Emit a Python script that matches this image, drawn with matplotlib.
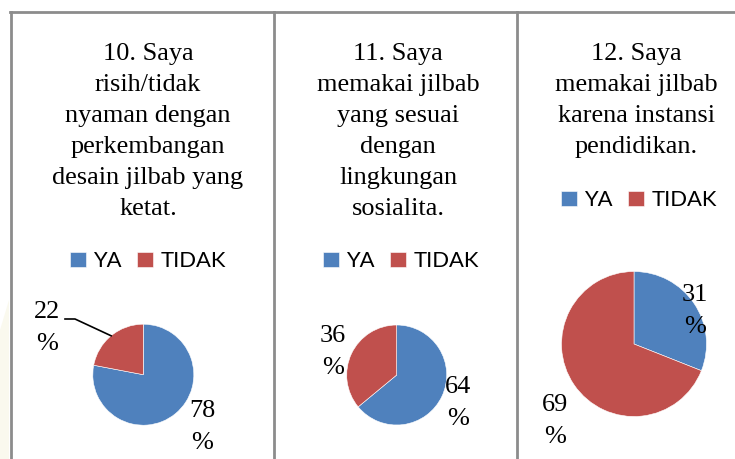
import numpy as np
import matplotlib.pyplot as plt
from matplotlib.lines import Line2D
from matplotlib.patches import Polygon

# data
categories = ['YA', 'TIDAK']
titles = ['10. Saya\nrisih/tidak\nnyaman dengan\nperkembangan\ndesain jilbab yang\nketat.',
          '11. Saya\nmemakai jilbab\nyang sesuai\ndengan\nlingkungan\nsosialita.',
          '12. Saya\nmemakai jilbab\nkarena instansi\npendidikan.']
ya_pct = [78, 64, 31]
tidak_pct = [22, 36, 69]
colors = ['#4F81BD', '#C0504D']

W, H = 735, 459
fig = plt.figure(figsize=(W / 100, H / 100), dpi=100)
fig.patch.set_facecolor('white')


def fx(px):
    return px / W


def fy(py):
    return 1 - py / H


# layout in pixels: pie centre/radius, title centre, legend centre, label centres (YA, TIDAK)
panels = [
    dict(cx=143.3, cy=374.7, r=50.5, tx=148, ty=43, lx=148, ly=261,
         lab=[(202, 427), (47, 328)], leader=True),
    dict(cx=396.7, cy=375.0, r=50.0, tx=398, ty=43, lx=401, ly=261,
         lab=[(458, 403), (333, 352)], leader=False),
    dict(cx=634.0, cy=344.0, r=72.5, tx=636, ty=43, lx=639, ly=200,
         lab=[(695, 311), (555, 421)], leader=False),
]

serif = 'Liberation Serif'
fsize = 18.9
lsp = 1.53

# faint watermark at the left edge
fig.add_artist(Polygon([[fx(0), fy(330)], [fx(9), fy(300)], [fx(9), fy(459)], [fx(0), fy(459)]],
                       closed=True, facecolor='#FAF9EE', edgecolor='none'))

for i, p in enumerate(panels):
    r = p['r']
    ax = fig.add_axes([fx(p['cx'] - r), fy(p['cy'] + r), 2 * r / W, 2 * r / H])
    vals = [ya_pct[i], tidak_pct[i]]
    wedges, _ = ax.pie(vals, colors=colors, startangle=90, counterclock=False,
                       radius=1, wedgeprops=dict(edgecolor='white', linewidth=0.4))
    ax.set_xlim(-1, 1)
    ax.set_ylim(-1, 1)
    ax.set_aspect('equal')
    ax.axis('off')

    # data labels
    for j, v in enumerate(vals):
        lx, ly = p['lab'][j]
        ax.text((lx - p['cx']) / r, (p['cy'] - ly) / r, f'{v}\n%', ha='center', va='center',
                fontsize=fsize, family=serif, linespacing=lsp)

    # leader line for the small slice in the first chart
    if p['leader']:
        w = wedges[1]
        ang = np.deg2rad((w.theta1 + w.theta2) / 2)
        ex, ey = np.cos(ang), np.sin(ang)
        sx, sy = (65 - p['cx']) / r, (p['cy'] - 319) / r
        kx = (75 - p['cx']) / r
        ax.add_line(Line2D([sx, kx, ex], [sy, sy, ey], color='black', linewidth=1.2, clip_on=False))

    # title
    fig.text(fx(p['tx']), fy(p['ty']), titles[i], ha='center', va='top',
             fontsize=fsize, family=serif, linespacing=lsp)

    # legend
    fig.legend(wedges, categories, loc='center', bbox_to_anchor=(fx(p['lx']), fy(p['ly'])),
               ncol=2, frameon=False, prop=dict(family='Lato', size=15.8),
               handlelength=0.7, handleheight=0.7, handletextpad=0.35, columnspacing=0.7)

# panel borders
border = '#8C8C8C'
fig.add_artist(Line2D([fx(10), 1], [fy(12), fy(12)], color=border, linewidth=2))
for xb in [11, 274, 517]:
    fig.add_artist(Line2D([fx(xb), fx(xb)], [fy(12), 0], color=border, linewidth=2))

fig.savefig('out.png', dpi=100)
